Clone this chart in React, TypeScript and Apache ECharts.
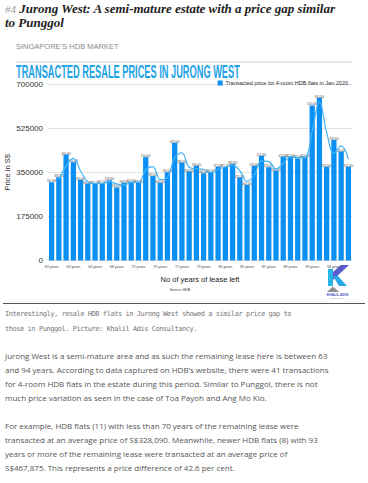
import React, { useEffect, useRef } from "react";
import * as echarts from "echarts";

const leaseYears = [
  "63", "63", "63", "63", "63", "64", "64", "65", "66", "68", "69",
  "71", "72", "73", "74", "75", "75", "76", "77", "78", "79", "79",
  "79", "80", "80", "80", "81", "81", "81", "85", "87", "88", "89",
  "89", "93", "93", "93", "93", "94", "94", "94", "94",
];

const prices = [
  310000, 330000, 420000, 390000, 320000, 305000, 305000, 307000, 318000, 290000, 308000,
  312000, 308000, 410000, 335000, 308000, 350000, 467000, 388000, 353000, 376000, 346000,
  350000, 372000, 371000, 383000, 329000, 300000, 376000, 415000, 370000, 356000, 412000,
  412000, 405000, 412000, 615000, 645000, 372000, 478000, 432000, 372000,
];

const trend = [
  "-", 320000, 375000, 405000, 355000, 312000, 305000, 306000, 312000, 304000, 299000,
  310000, 310000, 359000, 372000, 321000, 329000, 408000, 427000, 370000, 364000, 361000,
  348000, 361000, 371000, 377000, 356000, 314000, 338000, 395000, 392000, 363000, 384000,
  412000, 408000, 408000, 513000, 630000, 508000, 425000, 455000, 402000,
];

const yTicks = { min: 0, max: 700000, interval: 175000 };
const seriesName = "Transacted price for 4-room HDB flats in Jan 2020";

const TOP = 36;

function Chart() {
  const ref = useRef<HTMLDivElement>(null);
  useEffect(() => {
    if (!ref.current) return;
    const chart = echarts.init(ref.current, undefined, { renderer: "svg" });
    const font = "'Liberation Sans', Arial, Helvetica, sans-serif";
    chart.setOption({
      animation: false,
      textStyle: { fontFamily: font },
      grid: {
        left: 48,
        right: 16,
        top: 84 - TOP,
        bottom: 266 - (260.5 - TOP),
        containLabel: false,
        outerBoundsMode: "none",
      },
      legend: {
        data: [seriesName],
        right: 20,
        top: 44,
        padding: 0,
        itemWidth: 5,
        itemHeight: 5,
        itemGap: 3,
        icon: "rect",
        textStyle: { fontSize: 5.5, color: "#333", padding: [0, 0, 0, -2] },
      },
      xAxis: {
        type: "category",
        data: leaseYears,
        axisLine: { show: false },
        axisTick: { show: false },
        axisLabel: {
          interval: 2,
          fontSize: 3.6,
          color: "#444",
          margin: 4,
          formatter: (v: string) => v + " years",
        },
        name: "No of years of lease left",
        nameLocation: "middle",
        nameGap: 15,
        nameMoveOverlap: false,
        nameTextStyle: { fontSize: 7.5, color: "#222" },
      },
      yAxis: {
        type: "value",
        min: yTicks.min,
        max: yTicks.max,
        interval: yTicks.interval,
        axisLabel: {
          fontSize: 8,
          color: "#333",
          margin: 5,
          formatter: (v: number) => String(v),
        },
        splitLine: { lineStyle: { color: "#e2e2e2", width: 1 } },
        name: "Price in S$",
        nameLocation: "middle",
        nameGap: 37,
        nameMoveOverlap: false,
        nameTextStyle: { fontSize: 7.5, color: "#333" },
      },
      series: [
        {
          name: seriesName,
          type: "bar",
          data: prices,
          barCategoryGap: "27%",
          itemStyle: { color: "#0a90f5" },
          label: {
            show: true,
            position: "top",
            distance: -1,
            fontSize: 2.6,
            color: "#444",
            formatter: (p: any) => Number(p.value).toLocaleString("en-US"),
          },
        },
        {
          name: "trend",
          type: "line",
          data: trend,
          smooth: 0.4,
          symbol: "none",
          lineStyle: { color: "#45b4f7", width: 1.2 },
          z: 3,
        },
      ],
      graphic: [
        {
          type: "text",
          x: 16,
          y: 46 - TOP,
          style: {
            text: "SINGAPORE’S HDB MARKET",
            fontSize: 7.5,
            fontFamily: font,
            fill: "#8a8a8a",
            verticalAlign: "middle",
          },
        },
        {
          type: "line",
          shape: { x1: 16, y1: 62 - TOP, x2: 352, y2: 62 - TOP },
          style: { stroke: "#d0d0d0", lineWidth: 1 },
        },
        {
          type: "text",
          x: 16,
          y: 71.5 - TOP,
          scaleX: 0.5,
          style: {
            text: "TRANSACTED RESALE PRICES IN JURONG WEST",
            fontSize: 18.5,
            fontWeight: "bold",
            fontFamily: font,
            fill: "#1ea2e8",
            verticalAlign: "middle",
          },
        },
        {
          type: "text",
          x: 180,
          y: 290 - TOP,
          style: {
            text: "Source: HDB",
            fontSize: 3.5,
            fontFamily: font,
            fill: "#333",
            align: "center",
            verticalAlign: "middle",
          },
        },
        {
          type: "rect",
          shape: { x: 328, y: 269 - TOP, width: 5, height: 17 },
          style: { fill: "#2bb6e8" },
        },
        {
          type: "polygon",
          shape: { points: [[341, 265 - TOP], [349, 265 - TOP], [333, 280 - TOP], [333, 272 - TOP]] },
          style: { fill: "#5a5cd0" },
        },
        {
          type: "polygon",
          shape: { points: [[333, 276 - TOP], [338, 276 - TOP], [347, 286 - TOP], [339, 286 - TOP]] },
          style: { fill: "#2aa8e6" },
        },
        {
          type: "polygon",
          shape: { points: [[327, 292 - TOP], [333, 286.5 - TOP], [339, 292 - TOP]] },
          style: { fill: "#8c8c8c" },
        },
        {
          type: "text",
          x: 337.5,
          y: 294.5 - TOP,
          style: {
            text: "KHALIL ADIS",
            fontSize: 3.4,
            fontWeight: "bold",
            fontFamily: font,
            fill: "#4a4fc0",
            align: "center",
            verticalAlign: "middle",
          },
        },
        {
          type: "text",
          x: 337.5,
          y: 298 - TOP,
          style: {
            text: "CONSULTANCY",
            fontSize: 2,
            fontFamily: font,
            fill: "#999",
            align: "center",
            verticalAlign: "middle",
          },
        },
      ],
    });
    return () => chart.dispose();
  }, []);
  return (
    <div
      ref={ref}
      style={{ position: "absolute", left: 0, top: TOP, width: 368, height: 266 }}
    />
  );
}

export default function App() {
  const body: React.CSSProperties = {
    position: "absolute",
    left: 5,
    fontFamily: "'Open Sans', 'Noto Sans', sans-serif",
    fontSize: 8,
    lineHeight: "14px",
    color: "#555",
    whiteSpace: "nowrap",
  };
  return (
    <div
      style={{
        position: "absolute",
        left: 0,
        top: 0,
        width: 368,
        height: 483,
        background: "#fff",
        overflow: "hidden",
      }}
    >
      <div
        style={{
          position: "absolute",
          left: 5,
          top: 2,
          fontFamily: "'Liberation Serif', 'DejaVu Serif', serif",
          fontStyle: "italic",
          fontWeight: "bold",
          fontSize: 13,
          lineHeight: "14px",
          color: "#222",
          whiteSpace: "nowrap",
        }}
      >
        <span style={{ color: "#999", fontWeight: "normal", fontSize: 11 }}>#4</span> Jurong West: A
        semi-mature estate with a price gap similar
        <br />
        to Punggol
      </div>
      <Chart />
      <div
        style={{
          position: "absolute",
          left: 3,
          top: 303,
          width: 362,
          height: 1,
          background: "#555",
        }}
      />
      <div
        style={{
          position: "absolute",
          left: 5,
          top: 306.5,
          fontFamily: "'DejaVu Sans Mono', 'Liberation Mono', monospace",
          fontSize: 7,
          letterSpacing: "-0.45px",
          lineHeight: "15px",
          color: "#777",
          whiteSpace: "nowrap",
        }}
      >
        Interestingly, resale HDB flats in Jurong West showed a similar price gap to
        <br />
        those in Punggol. Picture: Khalil Adis Consultancy.
      </div>
      <div style={{ ...body, top: 349 }}>
        Jurong West is a semi-mature area and as such the remaining lease here is between 63
        <br />
        and 94 years. According to data captured on HDB’s website, there were 41 transactions
        <br />
        for 4-room HDB flats in the estate during this period. Similar to Punggol, there is not
        <br />
        much price variation as seen in the case of Toa Payoh and Ang Mo Kio.
      </div>
      <div style={{ ...body, top: 419 }}>
        For example, HDB flats (11) with less than 70 years of the remaining lease were
        <br />
        transacted at an average price of S$328,090. Meanwhile, newer HDB flats (8) with 93
        <br />
        years or more of the remaining lease were transacted at an average price of
        <br />
        S$467,875. This represents a price difference of 42.6 per cent.
      </div>
    </div>
  );
}
